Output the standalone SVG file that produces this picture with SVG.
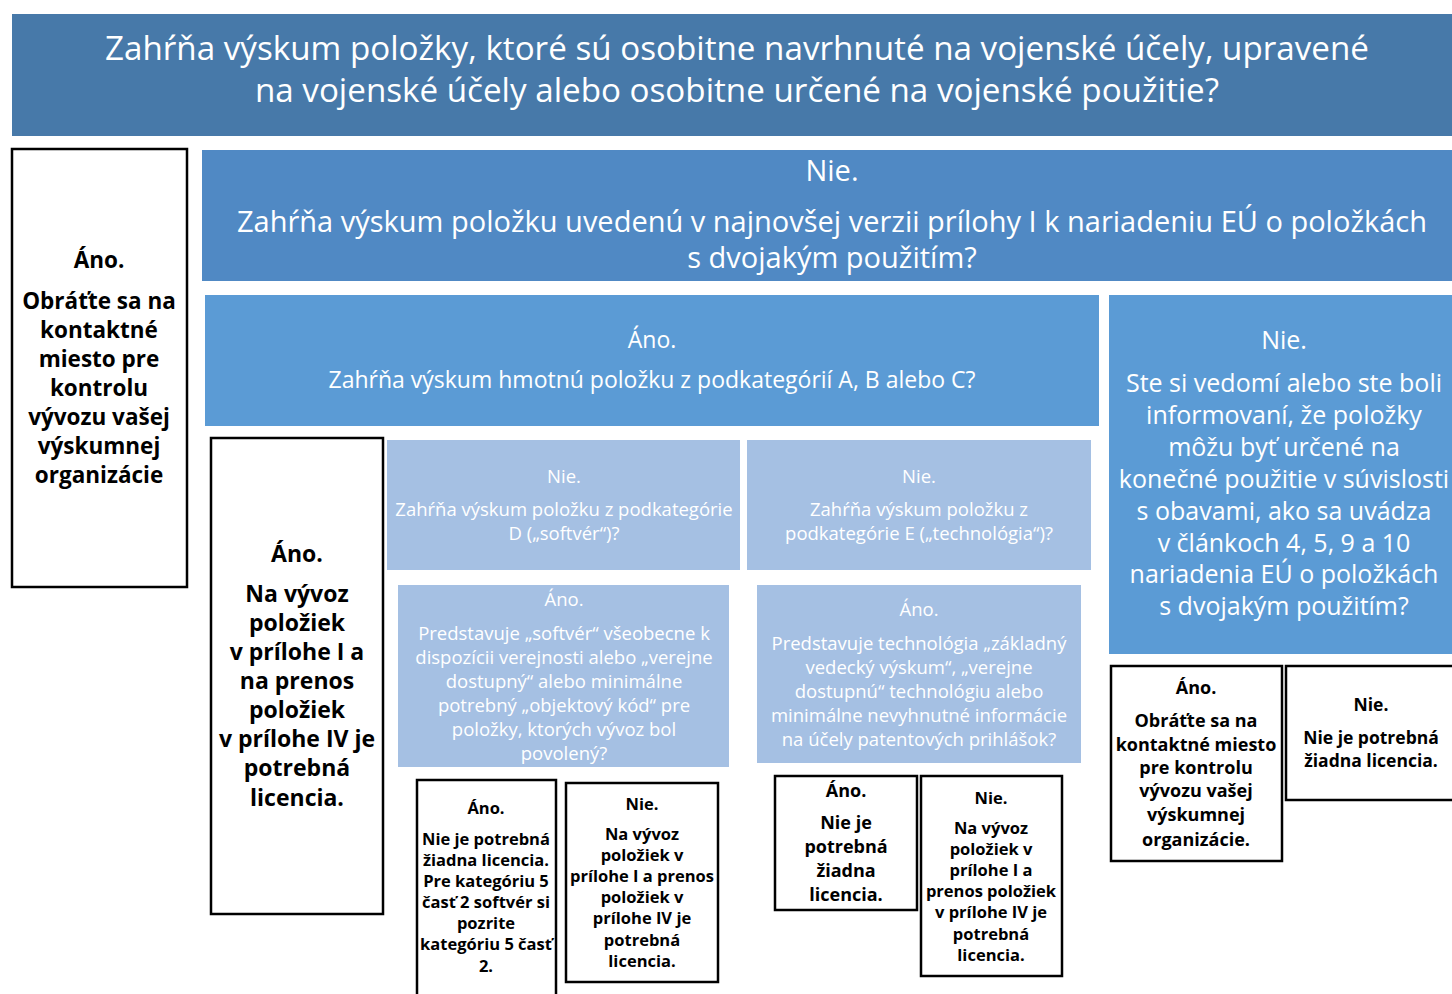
<svg xmlns="http://www.w3.org/2000/svg" width="1452" height="994" viewBox="0 0 1452 994">
<style>
text{font-family:"Open Sans","Noto Sans",sans-serif;text-anchor:middle}
.w{fill:#ffffff}
.k{fill:#000000;font-weight:bold}
.box{fill:#ffffff;stroke:#000000;stroke-width:2.5}
.c1{fill:#4779A9}
.c2{fill:#5089C4}
.c3{fill:#5B9BD5}
.c4{fill:#A5C0E3}
</style>
<rect width="1452" height="994" fill="#ffffff"/>
<g id="q1">
<rect class="c1" x="12" y="14" width="1442" height="122"/>
<text class="w" font-size="33.2"><tspan x="737" y="60">Zahŕňa výskum položky, ktoré sú osobitne navrhnuté na vojenské účely, upravené</tspan><tspan x="737" y="102">na vojenské účely alebo osobitne určené na vojenské použitie?</tspan></text>
</g>
<g id="a1">
<rect class="box" x="12" y="149" width="175" height="438"/>
<text class="k" font-size="22.5"><tspan x="99" y="268">Áno.</tspan><tspan x="99" y="309">Obráťte sa na</tspan><tspan x="99" y="338">kontaktné</tspan><tspan x="99" y="367">miesto pre</tspan><tspan x="99" y="396">kontrolu</tspan><tspan x="99" y="425">vývozu vašej</tspan><tspan x="99" y="454">výskumnej</tspan><tspan x="99" y="483">organizácie</tspan></text>
</g>
<g id="q2">
<rect class="c2" x="202" y="150" width="1252" height="131"/>
<text class="w" font-size="29"><tspan x="832" y="181">Nie.</tspan><tspan x="832" y="232">Zahŕňa výskum položku uvedenú v najnovšej verzii prílohy I k nariadeniu EÚ o položkách</tspan><tspan x="832" y="268">s dvojakým použitím?</tspan></text>
</g>
<g id="q3">
<rect class="c3" x="205" y="295" width="894" height="131"/>
<text class="w" font-size="23"><tspan x="652" y="348">Áno.</tspan><tspan x="652" y="388">Zahŕňa výskum hmotnú položku z podkategórií A, B alebo C?</tspan></text>
</g>
<g id="q4">
<rect class="c3" x="1109" y="295" width="345" height="359"/>
<text class="w" font-size="25"><tspan x="1284" y="349">Nie.</tspan><tspan x="1284" y="392">Ste si vedomí alebo ste boli</tspan><tspan x="1284" y="424">informovaní, že položky</tspan><tspan x="1284" y="456">môžu byť určené na</tspan><tspan x="1284" y="488">konečné použitie v súvislosti</tspan><tspan x="1284" y="520">s obavami, ako sa uvádza</tspan><tspan x="1284" y="552">v článkoch 4, 5, 9 a 10</tspan><tspan x="1284" y="583">nariadenia EÚ o položkách</tspan><tspan x="1284" y="615">s dvojakým použitím?</tspan></text>
</g>
<g id="a2">
<rect class="box" x="211" y="438" width="172" height="476"/>
<text class="k" font-size="23"><tspan x="297" y="562">Áno.</tspan><tspan x="297" y="602">Na vývoz</tspan><tspan x="297" y="631">položiek</tspan><tspan x="297" y="660">v prílohe I a</tspan><tspan x="297" y="689">na prenos</tspan><tspan x="297" y="718">položiek</tspan><tspan x="297" y="747">v prílohe IV je</tspan><tspan x="297" y="776">potrebná</tspan><tspan x="297" y="806">licencia.</tspan></text>
</g>
<g id="qD">
<rect class="c4" x="387" y="440" width="353" height="130"/>
<text class="w" font-size="18.5"><tspan x="564" y="483">Nie.</tspan><tspan x="564" y="516">Zahŕňa výskum položku z podkategórie</tspan><tspan x="564" y="540">D („softvér“)?</tspan></text>
</g>
<g id="qE">
<rect class="c4" x="747" y="440" width="344" height="130"/>
<text class="w" font-size="18.5"><tspan x="919" y="483">Nie.</tspan><tspan x="919" y="516">Zahŕňa výskum položku z</tspan><tspan x="919" y="540">podkategórie E („technológia“)?</tspan></text>
</g>
<g id="qD2">
<rect class="c4" x="398" y="585" width="331" height="182"/>
<text class="w" font-size="18.5"><tspan x="564" y="606">Áno.</tspan><tspan x="564" y="640">Predstavuje „softvér“ všeobecne k</tspan><tspan x="564" y="664">dispozícii verejnosti alebo „verejne</tspan><tspan x="564" y="688">dostupný“ alebo minimálne</tspan><tspan x="564" y="712">potrebný „objektový kód“ pre</tspan><tspan x="564" y="736">položky, ktorých vývoz bol</tspan><tspan x="564" y="760">povolený?</tspan></text>
</g>
<g id="qE2">
<rect class="c4" x="757" y="585" width="324" height="178"/>
<text class="w" font-size="18.5"><tspan x="919" y="616">Áno.</tspan><tspan x="919" y="650">Predstavuje technológia „základný</tspan><tspan x="919" y="674">vedecký výskum“, „verejne</tspan><tspan x="919" y="698">dostupnú“ technológiu alebo</tspan><tspan x="919" y="722">minimálne nevyhnutné informácie</tspan><tspan x="919" y="746">na účely patentových prihlášok?</tspan></text>
</g>
<g id="aD1">
<rect class="box" x="417" y="780" width="139" height="220"/>
<text class="k" font-size="16.5"><tspan x="486" y="814">Áno.</tspan><tspan x="486" y="845">Nie je potrebná</tspan><tspan x="486" y="866">žiadna licencia.</tspan><tspan x="486" y="887">Pre kategóriu 5</tspan><tspan x="486" y="908">časť 2 softvér si</tspan><tspan x="486" y="929">pozrite</tspan><tspan x="486" y="950">kategóriu 5 časť</tspan><tspan x="486" y="972">2.</tspan></text>
</g>
<g id="aD2">
<rect class="box" x="566" y="783" width="152" height="199"/>
<text class="k" font-size="16.5"><tspan x="642" y="810">Nie.</tspan><tspan x="642" y="840">Na vývoz</tspan><tspan x="642" y="861">položiek v</tspan><tspan x="642" y="882">prílohe I a prenos</tspan><tspan x="642" y="903">položiek v</tspan><tspan x="642" y="924">prílohe IV je</tspan><tspan x="642" y="946">potrebná</tspan><tspan x="642" y="967">licencia.</tspan></text>
</g>
<g id="aE1">
<rect class="box" x="775" y="776" width="142" height="134"/>
<text class="k" font-size="18"><tspan x="846" y="797">Áno.</tspan><tspan x="846" y="829">Nie je</tspan><tspan x="846" y="853">potrebná</tspan><tspan x="846" y="877">žiadna</tspan><tspan x="846" y="901">licencia.</tspan></text>
</g>
<g id="aE2">
<rect class="box" x="921" y="776" width="141" height="200"/>
<text class="k" font-size="16.5"><tspan x="991" y="804">Nie.</tspan><tspan x="991" y="834">Na vývoz</tspan><tspan x="991" y="855">položiek v</tspan><tspan x="991" y="876">prílohe I a</tspan><tspan x="991" y="897">prenos položiek</tspan><tspan x="991" y="918">v prílohe IV je</tspan><tspan x="991" y="940">potrebná</tspan><tspan x="991" y="961">licencia.</tspan></text>
</g>
<g id="aR1">
<rect class="box" x="1111" y="666" width="171" height="195"/>
<text class="k" font-size="18"><tspan x="1196" y="694">Áno.</tspan><tspan x="1196" y="727">Obráťte sa na</tspan><tspan x="1196" y="751">kontaktné miesto</tspan><tspan x="1196" y="774">pre kontrolu</tspan><tspan x="1196" y="797">vývozu vašej</tspan><tspan x="1196" y="821">výskumnej</tspan><tspan x="1196" y="846">organizácie.</tspan></text>
</g>
<g id="aR2">
<rect class="box" x="1286" y="666" width="170" height="134"/>
<text class="k" font-size="17.5"><tspan x="1371" y="711">Nie.</tspan><tspan x="1371" y="744">Nie je potrebná</tspan><tspan x="1371" y="767">žiadna licencia.</tspan></text>
</g>
<g id="connectors"/>
</svg>
